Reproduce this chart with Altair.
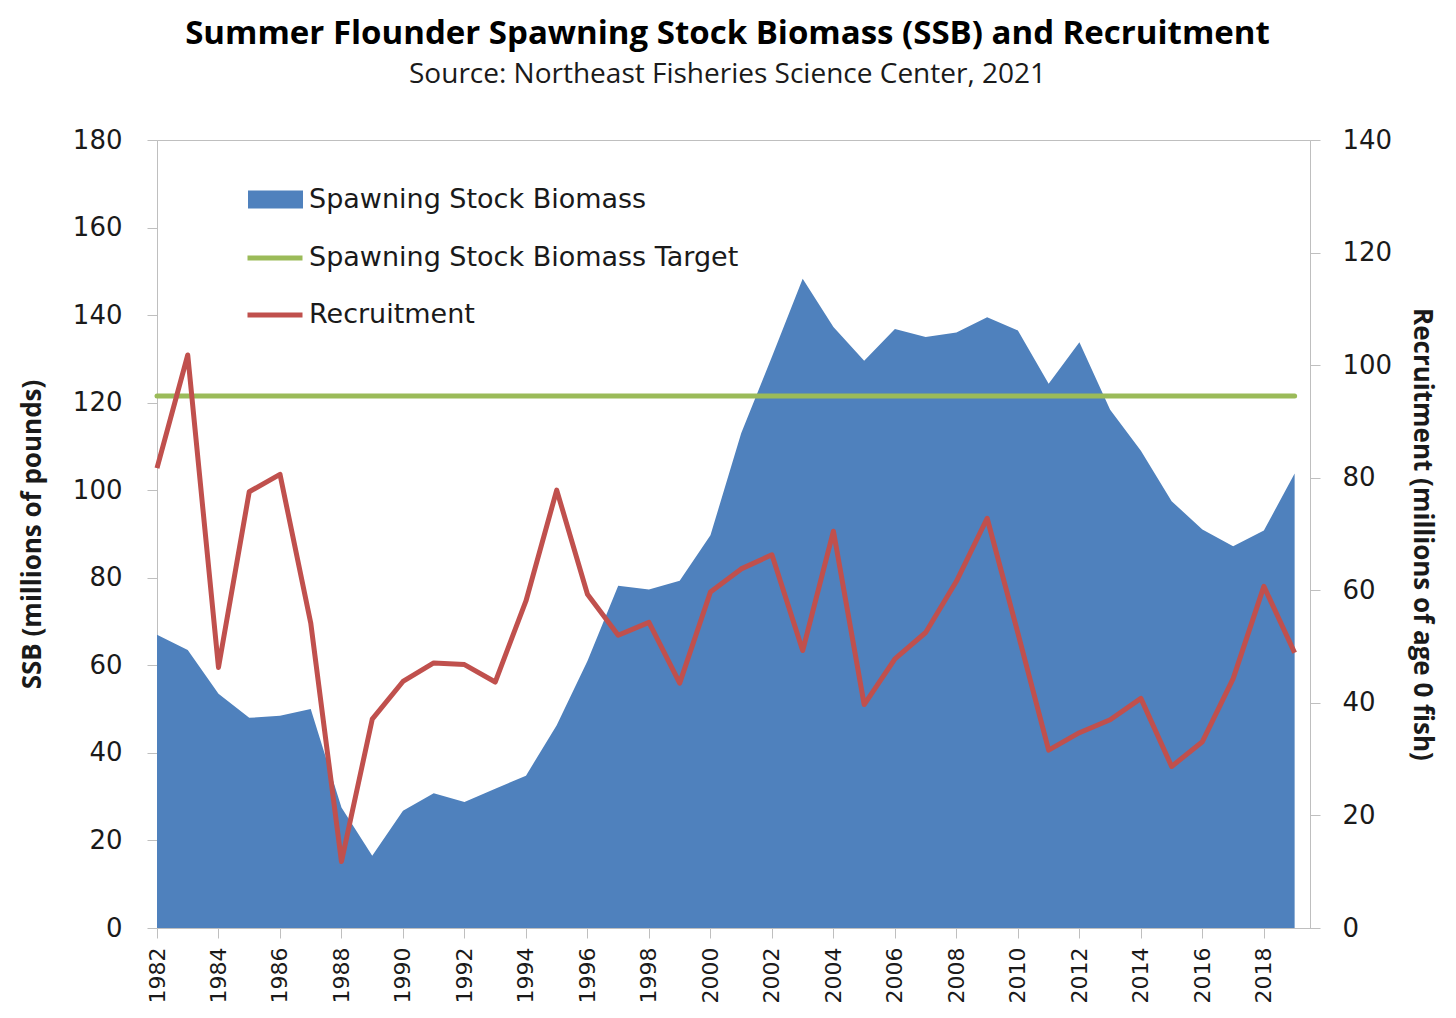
import altair as alt
import pandas as pd

years = list(range(1982, 2020))
ssb = [67.0, 63.5, 53.5, 48.0, 48.5, 50.0, 27.5, 16.5, 26.8, 30.8,
       28.8, 31.8, 34.8, 46.3, 61.0, 78.2, 77.3, 79.3, 89.7, 113.0,
       130.5, 148.3, 137.3, 129.6, 136.8, 135.0, 136.0, 139.5, 136.5, 124.3,
       133.8, 118.4, 109.0, 97.5, 91.0, 87.2, 90.8, 103.8]
recruitment = [81.7, 101.8, 46.3, 77.5, 80.6, 54.2, 11.8, 37.1, 43.8, 47.1,
               46.8, 43.7, 58.1, 77.8, 59.3, 52.0, 54.3, 43.5, 59.7, 63.8,
               66.3, 49.3, 70.5, 39.7, 47.8, 52.5, 61.6, 72.8, 52.4, 31.6,
               34.7, 37.0, 40.8, 28.7, 33.1, 44.3, 60.7, 48.9]
target_years = [1982, 2019]
target_values = [121.5, 121.5]

SSB_NAME = "Spawning Stock Biomass"
TARGET_NAME = "Spawning Stock Biomass Target"
REC_NAME = "Recruitment"

BLUE = "#4F81BD"
GREEN = "#9BBB59"
RED = "#C0504D"
GRAY = "#BFBFBF"
TXT = "#1a1a1a"

df = pd.DataFrame({"year": years, "ssb": ssb, "rec": recruitment})
df["ssb_label"] = SSB_NAME
df["series"] = REC_NAME
tdf = pd.DataFrame({"year": target_years, "ssb": target_values})
tdf["series"] = TARGET_NAME

W, H = 1153, 788

x_enc = alt.X(
    "year:Q",
    scale=alt.Scale(domain=[1982, 2019.5], nice=False, zero=False),
    axis=alt.Axis(
        values=years, title=None, labelExpr="datum.value % 2 == 0 ? datum.value : ''",
        labelAngle=270, labelAlign="right", labelBaseline="middle",
        labelFont="DejaVu Sans", labelFontSize=22, labelColor=TXT,
        labelPadding=9, labelOverlap=False, labelFlush=False, labelBound=False,
        tickSize=10, tickColor=GRAY, domainColor=GRAY, grid=False,
    ),
)

left_axis = alt.Axis(
    values=list(range(0, 181, 20)), title="SSB (millions of pounds)",
    titleFont="Open Sans", titleFontWeight="bold", titleFontSize=26, titleColor=TXT,
    titleAngle=270, titleX=-125, titleY=394, titleAlign="center", titleBaseline="middle",
    labelFont="DejaVu Sans", labelFontSize=26, labelColor=TXT, labelPadding=25,
    tickSize=10, tickColor=GRAY, domainColor=GRAY, grid=False,
)
right_axis = alt.Axis(
    orient="right", values=list(range(0, 141, 20)),
    title="Recruitment (millions of age 0 fish)",
    titleFont="Open Sans", titleFontWeight="bold", titleFontSize=26, titleColor=TXT,
    titleAngle=90, titleX=111, titleY=394, titleAlign="center", titleBaseline="middle",
    labelFont="DejaVu Sans", labelFontSize=26, labelColor=TXT, labelPadding=22,
    tickSize=10, tickColor=GRAY, domainColor=GRAY, grid=False,
)

y_left_scale = alt.Scale(domain=[0, 180], nice=False)
stroke_scale = alt.Scale(domain=[TARGET_NAME, REC_NAME], range=[GREEN, RED])
stroke_legend = alt.Legend(
    title=None, orient="none", legendX=88, legendY=88, direction="vertical",
    symbolType="stroke", symbolSize=3025, symbolStrokeWidth=5,
    labelFont="DejaVu Sans", labelFontSize=27, labelColor=TXT, labelOffset=4,
    labelLimit=0, rowPadding=14, padding=0,
)

area = alt.Chart(df).mark_area(opacity=1).encode(
    x=x_enc,
    y=alt.Y("ssb:Q", scale=y_left_scale, axis=left_axis),
    fill=alt.Fill(
        "ssb_label:N",
        scale=alt.Scale(domain=[SSB_NAME], range=[BLUE]),
        legend=alt.Legend(
            title=None, orient="none", legendX=91, legendY=32,
            symbolType="M-1,-0.33H1V0.33H-1Z", symbolSize=3025, symbolStrokeWidth=0,
            labelFont="DejaVu Sans", labelFontSize=27, labelColor=TXT, labelOffset=6,
            labelLimit=0, padding=0,
        ),
    ),
)

target = alt.Chart(tdf).mark_line(strokeWidth=5, strokeCap="round").encode(
    x=alt.X("year:Q"),
    y=alt.Y("ssb:Q", scale=y_left_scale, axis=left_axis),
    stroke=alt.Stroke("series:N", scale=stroke_scale, legend=stroke_legend),
)

rec_line = alt.Chart(df).mark_line(strokeWidth=5, strokeJoin="round").encode(
    x=alt.X("year:Q"),
    y=alt.Y("rec:Q", scale=alt.Scale(domain=[0, 140], nice=False), axis=right_axis),
    stroke=alt.Stroke("series:N", scale=stroke_scale, legend=stroke_legend),
)

chart = alt.layer(
    alt.layer(area, target), rec_line
).resolve_scale(y="independent").properties(
    width=W, height=H,
    padding={"left": 149, "top": 132, "right": 136, "bottom": 80},
    autosize=alt.AutoSizeParams(type="none"),
    title=alt.Title(
        text="Summer Flounder Spawning Stock Biomass (SSB) and Recruitment",
        subtitle="Source: Northeast Fisheries Science Center, 2021",
        font="Open Sans", fontSize=33, fontWeight="bold", color="#000000",
        subtitleFont="Open Sans", subtitleFontSize=28, subtitleColor=TXT,
        subtitlePadding=10, anchor="middle", frame="group", offset=38, dx=-6,
    ),
).configure_view(stroke=GRAY, strokeWidth=1)

chart.save("out.html", embed_options={"renderer": "svg", "actions": False})
